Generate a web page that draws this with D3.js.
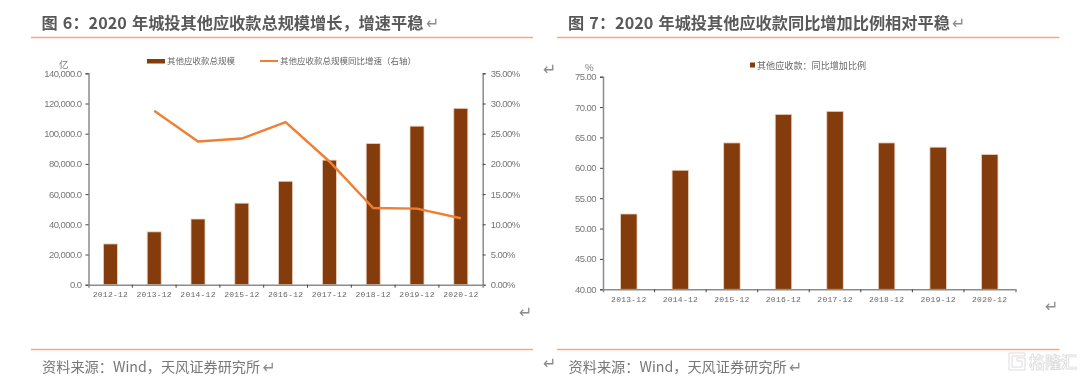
<!DOCTYPE html>
<html>
<head>
<meta charset="utf-8">
<script src="https://cdn.jsdelivr.net/npm/d3@7"></script>
<style>
    html, body { margin: 0; padding: 0; background: #fff; }
    svg { display: block; filter: blur(0.4px); }
    .title { font: 700 16.2px "Noto Sans CJK SC", sans-serif; word-spacing: 1.5px; fill: #595959; }
    .source { font: 400 14.2px "Noto Sans CJK SC", sans-serif; fill: #777; }
    .legend { font: 400 8.5px "Noto Sans CJK SC", sans-serif; fill: #666; }
    .unit { font: 400 9.5px "Noto Sans CJK SC", sans-serif; fill: #777; }
    .mark { font: 400 16px "DejaVu Sans", sans-serif; fill: #8c8c8c; }
    .axis path { stroke: #8c8c8c; stroke-width: 1.5px; }
    .axis line { stroke: #444; }
    .axis text { font: 9.5px "Liberation Sans", sans-serif; letter-spacing: -0.55px; fill: #777; }
    .axis-x text { font: 8px "Liberation Mono", monospace; letter-spacing: 0.25px; fill: #666; }
    .watermark { font: 700 16px "Noto Sans CJK SC", sans-serif; fill: #fff; stroke: #dcdcdc; stroke-width: 0.8px; }
</style>
</head>
<body>
<div id="chart"></div>
<script>
const categoriesLeft = ["2012-12", "2013-12", "2014-12", "2015-12", "2016-12", "2017-12", "2018-12", "2019-12", "2020-12"];
const totalScale = [27000, 35000, 43500, 54000, 68500, 82500, 93500, 105000, 116800];
const totalGrowth = [null, 28.8, 23.7, 24.2, 26.9, 20.4, 12.7, 12.6, 11.0];
const ticksLeft = [0, 20000, 40000, 60000, 80000, 100000, 120000, 140000];
const ticksGrowth = [0, 5, 10, 15, 20, 25, 30, 35];

const categoriesRight = ["2013-12", "2014-12", "2015-12", "2016-12", "2017-12", "2018-12", "2019-12", "2020-12"];
const increaseRatio = [52.4, 59.6, 64.1, 68.8, 69.3, 64.1, 63.4, 62.2];
const ticksRight = [40, 45, 50, 55, 60, 65, 70, 75];

const BAR_COLOR = "#843c0c";
const BAR_EDGE = "#ecd5c5";
const LINE_COLOR = "#ef7f33";
const RULE_COLOR = "#f5ad78";

const svg = d3.select("#chart")
    .append("svg")
    .attr("width", 1080)
    .attr("height", 379);

const addText = (cls, x, y, str) => {
    return svg.append("text")
        .attr("class", cls)
        .attr("x", x)
        .attr("y", y)
        .text(str);
}

const addRule = (x1, x2, y) => {
    svg.append("line")
        .attr("x1", x1).attr("x2", x2)
        .attr("y1", y).attr("y2", y)
        .attr("stroke", RULE_COLOR)
        .attr("stroke-width", 1.3);
}

const drawXAxis = (scale, y) => {
    const g = svg.append("g")
        .attr("class", "axis axis-x")
        .attr("transform", "translate(0," + y + ")")
        .call(d3.axisBottom(scale).tickSizeInner(0).tickSizeOuter(3).tickPadding(7));
    // ticks sit between the categories
    g.selectAll(".between")
        .data(scale.domain().slice(1))
        .enter()
        .append("line")
        .attr("x1", d => scale(d))
        .attr("x2", d => scale(d))
        .attr("y1", 0)
        .attr("y2", 3);
}

const drawBars = (cats, values, xScale, yScale) => {
    svg.append("g")
        .selectAll("rect")
        .data(values)
        .enter()
        .append("rect")
        .attr("x", (d, i) => xScale(cats[i]))
        .attr("width", xScale.bandwidth())
        .attr("y", d => yScale(d))
        .attr("height", d => yScale.range()[0] - yScale(d))
        .attr("fill", BAR_COLOR)
        .attr("stroke", BAR_EDGE)
        .attr("stroke-width", 0.8);
}

// left chart
const xLeft = d3.scaleBand().domain(categoriesLeft).range([88.5, 482.7]).paddingInner(0.68).paddingOuter(0.34);
const yLeft = d3.scaleLinear().domain([0, 140000]).range([284.7, 73.3]);
const yGrowth = d3.scaleLinear().domain([0, 35]).range([284.7, 73.3]);

drawBars(categoriesLeft, totalScale, xLeft, yLeft);

svg.append("g")
    .attr("class", "axis axis-y")
    .attr("transform", "translate(88.5,0)")
    .call(d3.axisLeft(yLeft).tickValues(ticksLeft).tickFormat(d3.format(",.1f")).tickSize(3).tickPadding(4));

svg.append("g")
    .attr("class", "axis axis-y")
    .attr("transform", "translate(482.7,0)")
    .call(d3.axisRight(yGrowth).tickValues(ticksGrowth).tickFormat(d => d.toFixed(2) + "%").tickSize(3).tickPadding(5));

const xLeftBand = d3.scaleBand().domain(categoriesLeft).range([88.5, 482.7]);
drawXAxis(xLeftBand, 284.7);

const growthLine = d3.line()
    .defined(d => d !== null)
    .x((d, i) => xLeftBand(categoriesLeft[i]) + xLeftBand.bandwidth() / 2)
    .y(d => yGrowth(d));

svg.append("path")
    .attr("d", growthLine(totalGrowth))
    .attr("fill", "none")
    .attr("stroke", LINE_COLOR)
    .attr("stroke-width", 2.4);

svg.append("rect").attr("x", 147).attr("y", 59).attr("width", 18).attr("height", 4.5).attr("fill", BAR_COLOR);
addText("legend", 167, 64, "其他应收款总规模");
svg.append("line").attr("x1", 260).attr("x2", 278).attr("y1", 61).attr("y2", 61).attr("stroke", LINE_COLOR).attr("stroke-width", 2);
addText("legend", 280, 64, "其他应收款总规模同比增速（右轴）");
addText("unit", 59, 67.5, "亿");

addText("title", 41.5, 28.5, "图 6：2020 年城投其他应收款总规模增长，增速平稳");
addText("mark", 426, 29, "↵");
addRule(31, 533, 37.5);
addRule(31, 533, 349.5);
addText("source", 42, 372, "资料来源：Wind，天风证券研究所");
addText("mark", 262.5, 373, "↵");
addText("mark", 519, 318, "↵");
addText("mark", 543, 75, "↵");

// right chart
const xRightBand = d3.scaleBand().domain(categoriesRight).range([603, 1015.5]);
const xRight = d3.scaleBand().domain(categoriesRight).range([603, 1015.5]).paddingInner(0.68).paddingOuter(0.34);
const yRight = d3.scaleLinear().domain([40, 75]).range([289.3, 76.7]);

drawBars(categoriesRight, increaseRatio, xRight, yRight);

svg.append("g")
    .attr("class", "axis axis-y")
    .attr("transform", "translate(603,0)")
    .call(d3.axisLeft(yRight).tickValues(ticksRight).tickFormat(d3.format(".2f")).tickSize(3).tickPadding(4));

drawXAxis(xRightBand, 289.3);

svg.append("rect").attr("x", 750).attr("y", 62.5).attr("width", 5).attr("height", 5).attr("fill", BAR_COLOR);
addText("legend", 757, 68.5, "其他应收款：同比增加比例").style("font-size", "9.1px");
addText("unit", 585, 71, "%");

addText("title", 568, 28.5, "图 7：2020 年城投其他应收款同比增加比例相对平稳");
addText("mark", 952, 29, "↵");
addRule(557, 1059.5, 37.5);
addRule(557, 1059.5, 349.5);
addText("source", 568.5, 372, "资料来源：Wind，天风证券研究所");
addText("mark", 789, 373, "↵");
addText("mark", 1045, 312, "↵");
addText("mark", 543, 369, "↵");

// watermark bottom right
svg.append("path")
    .attr("d", "M1009 353h16v3h-13v11h10v-6h-5v-3h8v12h-16z")
    .attr("fill", "#fff")
    .attr("stroke", "#dcdcdc")
    .attr("stroke-width", 1);
addText("watermark", 1029, 368, "格隆汇");
</script>
</body>
</html>
